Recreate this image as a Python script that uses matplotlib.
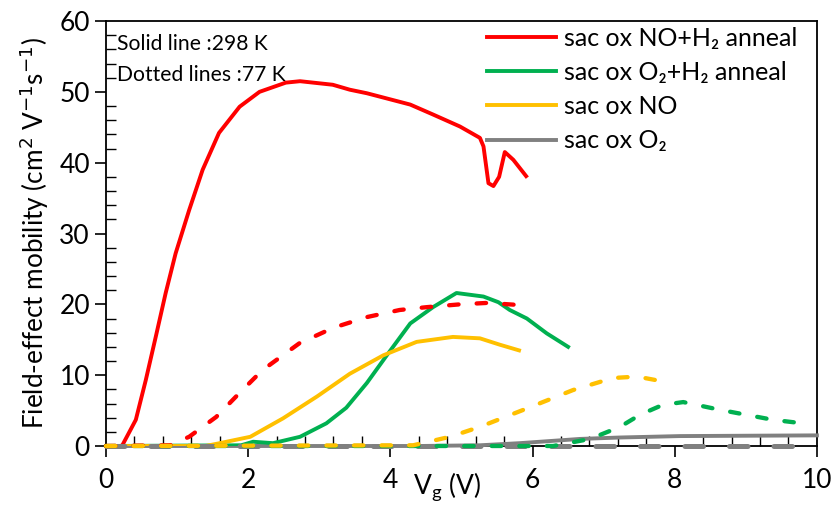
import matplotlib
matplotlib.use("Agg")
import matplotlib.pyplot as plt
from matplotlib.ticker import MultipleLocator

plt.rcParams['font.family'] = ['Lato', 'DejaVu Sans']

# Room temperature (298 K) curves
red_x = [0.0, 0.2, 0.23, 0.42, 0.56, 0.70, 0.84, 0.98, 1.17, 1.36, 1.59, 1.88, 2.16, 2.53,
         2.73, 3.19, 3.43, 3.67, 4.28, 4.6, 4.98, 5.26, 5.31, 5.38, 5.45, 5.53, 5.61, 5.73, 5.91]
red_y = [0.0, 0.0, 0.1, 3.7, 9.3, 15.4, 21.6, 27.2, 33.3, 39.0, 44.2, 47.9, 50.0, 51.3,
         51.5, 51.0, 50.3, 49.8, 48.2, 46.8, 45.1, 43.5, 42.3, 37.1, 36.7, 38.0, 41.5, 40.4, 38.1]

green_x = [0.0, 1.9, 2.07, 2.35, 2.73, 3.1, 3.38, 3.67, 3.95, 4.28, 4.6, 4.93, 5.31, 5.52,
           5.68, 5.92, 6.2, 6.5]
green_y = [0.0, 0.1, 0.6, 0.4, 1.3, 3.2, 5.4, 8.9, 12.8, 17.3, 19.6, 21.6, 21.1, 20.3,
           19.2, 18.0, 15.9, 14.0]

yellow_x = [0.0, 1.4, 1.6, 2.03, 2.49, 2.97, 3.43, 3.9, 4.37, 4.88, 5.26, 5.54, 5.81]
yellow_y = [0.0, 0.0, 0.4, 1.3, 3.9, 7.0, 10.2, 12.8, 14.7, 15.4, 15.2, 14.3, 13.5]

gray_x = [0.0, 4.4, 5.26, 5.82, 6.67, 7.23, 8.07, 9.0, 10.0]
gray_y = [0.0, 0.0, 0.1, 0.4, 1.0, 1.2, 1.4, 1.45, 1.5]

# Low temperature (77 K) curves
red77_x = [0.0, 0.9, 1.17, 1.55, 1.88, 2.2, 2.72, 3.2, 3.67, 4.13, 4.51, 4.98, 5.36, 5.82]
red77_y = [0.0, 0.1, 1.3, 4.1, 7.5, 10.7, 14.5, 16.7, 18.2, 19.2, 19.6, 20.0, 20.2, 19.9]

green77_x = [0.0, 6.29, 6.81, 7.23, 7.51, 7.83, 8.12, 8.64, 9.01, 9.38, 9.8]
green77_y = [0.0, 0.0, 1.0, 2.7, 4.4, 5.8, 6.2, 5.1, 4.4, 3.7, 3.2]

yellow77_x = [0.0, 4.32, 4.84, 5.26, 5.87, 6.57, 7.13, 7.47, 7.79]
yellow77_y = [0.0, 0.1, 1.3, 2.7, 5.1, 7.9, 9.6, 9.8, 9.2]

gray77_x = [0.0, 10.0]
gray77_y = [0.0, 0.0]

RED, GREEN, YELLOW, GRAY = '#FF0000', '#00B050', '#FFC000', '#808080'

fig = plt.figure(figsize=(8.37, 5.11), dpi=100)
ax = fig.add_axes([0.1266, 0.1272, 0.8494, 0.8317])

lw = 2.8
ax.plot(gray_x, gray_y, color=GRAY, lw=lw, label='sac ox O₂', clip_on=False, zorder=3)
ax.plot(red_x, red_y, color=RED, lw=lw, label='sac ox NO+H₂ anneal', zorder=3)
ax.plot(green_x, green_y, color=GREEN, lw=lw, label='sac ox O₂+H₂ anneal', zorder=3)
ax.plot(yellow_x, yellow_y, color=YELLOW, lw=lw, label='sac ox NO', zorder=3)

dash = (0, (2.2, 4.2))
ax.plot(gray77_x, gray77_y, color=GRAY, lw=3.6, ls=(0, (3.7, 5.2)),
        dash_capstyle='round', clip_on=False, zorder=4)
for xs, ys, c in [(green77_x, green77_y, GREEN), (red77_x, red77_y, RED),
                  (yellow77_x, yellow77_y, YELLOW)]:
    ax.plot(xs, ys, color=c, lw=3.1, ls=dash, dash_capstyle='round',
            clip_on=False, zorder=5)

ax.set_xlim(0, 10)
ax.set_ylim(0, 60)
ax.xaxis.set_major_locator(MultipleLocator(2))
ax.xaxis.set_minor_locator(MultipleLocator(0.4))
ax.yaxis.set_major_locator(MultipleLocator(10))
ax.yaxis.set_minor_locator(MultipleLocator(2))
ax.tick_params(axis='both', which='major', direction='out', length=8, width=1.2,
               labelsize=19, colors='black')
ax.tick_params(axis='x', which='major', pad=8)
ax.tick_params(axis='both', which='minor', direction='in', length=7, width=1.0)
for s in ax.spines.values():
    s.set_linewidth(1.3)

ax.set_ylabel('Field-effect mobility (cm$^2$ V$^{-1}$s$^{-1}$)', fontsize=18.8, labelpad=6)
ax.text(0.48, -0.095, 'V$_\\mathregular{g}$ (V)', transform=ax.transAxes, fontsize=19,
        ha='center', va='center')

ax.text(0.016, 0.945, 'Solid line :298 K', transform=ax.transAxes, fontsize=15.2,
        ha='left', va='center')
ax.text(0.016, 0.872, 'Dotted lines :77 K', transform=ax.transAxes, fontsize=15.2,
        ha='left', va='center')

handles, labels = ax.get_legend_handles_labels()
order = [1, 2, 3, 0]
ax.legend([handles[i] for i in order], [labels[i] for i in order],
          loc='upper right', bbox_to_anchor=(0.993, 1.022), frameon=False,
          fontsize=18, handlelength=2.75, handletextpad=0.3, labelspacing=0.45,
          borderaxespad=0.2)

fig.savefig('out.png', dpi=100)
